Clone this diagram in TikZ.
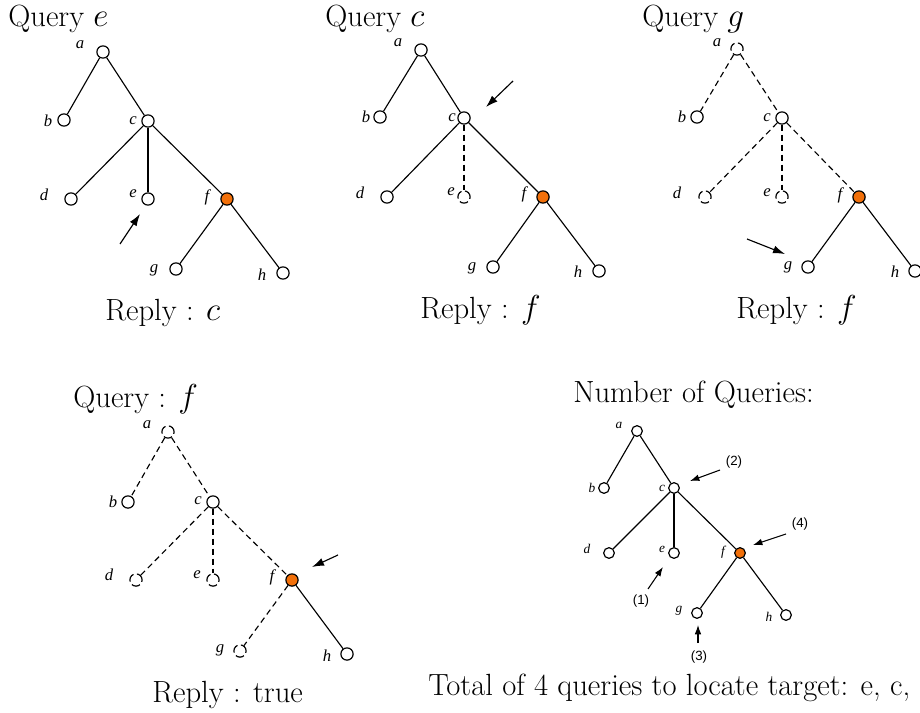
\documentclass[tikz,border=0pt]{standalone}
\usepackage{fontspec}
\newfontfamily\lblfont{Liberation Serif}
\newfontfamily\numfont{Liberation Sans}
\usetikzlibrary{arrows.meta}
\definecolor{tgtorange}{RGB}{242,112,10}
\begin{document}
\begin{tikzpicture}[x=0.75pt,y=-0.75pt,
 vtx/.style={circle,draw,line width=0.9pt,fill=white,inner sep=0pt,minimum size=9.2pt},
 svtx/.style={vtx,minimum size=8pt},
 tgt/.style={fill=tgtorange},
 gone/.style={dash pattern=on 6.5pt off 2.6pt},
 edge/.style={line width=0.85pt},
 dedge/.style={edge,dash pattern=on 4.5pt off 3pt},
 lbl/.style={font=\lblfont\itshape\fontsize{12.5}{13}\selectfont, inner sep=0pt},
 slbl/.style={font=\lblfont\itshape\fontsize{10}{11}\selectfont, inner sep=0pt},
 num/.style={font=\numfont\fontsize{10}{11}\selectfont, inner sep=0pt},
 ptr/.style={-{Latex[length=9pt,width=6pt]},line width=0.85pt},
 sptr/.style={-{Latex[length=7pt,width=5pt]},line width=0.8pt},
 title/.style={font=\fontsize{23}{26}\selectfont, inner sep=0pt, anchor=base west}
]
\useasboundingbox (0,0) rectangle (920,713);

% ---------- Tree 1 : Query e ----------
\node[title] (t1q) at (8,27) {Query $e$};
\node[vtx] (1a) at (103,52) {};
\node[vtx] (1b) at (64,120) {};
\node[vtx] (1c) at (148,121) {};
\node[vtx] (1d) at (71,199) {};
\node[vtx] (1e) at (148,199) {};
\node[vtx,tgt] (1f) at (227,199) {};
\node[vtx] (1g) at (176,269) {};
\node[vtx] (1h) at (283,273) {};
\draw[edge] (1a) -- (1b); \draw[edge] (1a) -- (1c);
\draw[edge] (1c) -- (1d); \draw[edge] (1c) -- (1e); \draw[edge] (1c) -- (1f);
\draw[edge] (1f) -- (1g); \draw[edge] (1f) -- (1h);
\node[lbl] (1la) at (80,45) {a};
\node[lbl] (1lb) at (48,121) {b};
\node[lbl] (1lc) at (133,121) {c};
\node[lbl] (1ld) at (44,195) {d};
\node[lbl] (1le) at (133,194) {e};
\node[lbl] (1lf) at (207,197) {f};
\node[lbl] (1lg) at (154,270) {g};
\node[lbl] (1lh) at (262,275) {h};
\coordinate (1p) at (120,244);
\draw[ptr] (1p) -- (140,214);
\node[title] (t1r) at (105,320) {Reply : $c$};

% ---------- Tree 2 : Query c ----------
\node[title] (t2q) at (325,27) {Query $c$};
\node[vtx] (2a) at (421,50) {};
\node[vtx] (2b) at (380,117) {};
\node[vtx] (2c) at (464,118) {};
\node[vtx] (2d) at (387,197) {};
\node[vtx,gone] (2e) at (464,197) {};
\node[vtx,tgt] (2f) at (543,197) {};
\node[vtx] (2g) at (493,267) {};
\node[vtx] (2h) at (599,271) {};
\draw[edge] (2a) -- (2b); \draw[edge] (2a) -- (2c);
\draw[edge] (2c) -- (2d); \draw[dedge] (2c) -- (2e); \draw[edge] (2c) -- (2f);
\draw[edge] (2f) -- (2g); \draw[edge] (2f) -- (2h);
\node[lbl] (2la) at (398,43) {a};
\node[lbl] (2lb) at (366,117) {b};
\node[lbl] (2lc) at (452,118) {c};
\node[lbl] (2ld) at (360,193) {d};
\node[lbl] (2le) at (451,192) {e};
\node[lbl] (2lf) at (524,194) {f};
\node[lbl] (2lg) at (472,268) {g};
\node[lbl] (2lh) at (578,272) {h};
\coordinate (2p) at (513,81);
\draw[ptr] (2p) -- (486,107);
\node[title] (t2r) at (420,318) {Reply : $f$};

% ---------- Tree 3 : Query g ----------
\node[title] (t3q) at (642,27) {Query $g$};
\node[vtx,gone] (3a) at (737,49) {};
\node[vtx] (3b) at (697,117) {};
\node[vtx] (3c) at (782,118) {};
\node[vtx,gone] (3d) at (705,197) {};
\node[vtx,gone] (3e) at (782,197) {};
\node[vtx,tgt] (3f) at (859,197) {};
\node[vtx] (3g) at (808,267) {};
\node[vtx] (3h) at (915,271) {};
\draw[dedge] (3a) -- (3b); \draw[dedge] (3a) -- (3c);
\draw[dedge] (3c) -- (3d); \draw[dedge] (3c) -- (3e); \draw[dedge] (3c) -- (3f);
\draw[edge] (3f) -- (3g); \draw[edge] (3f) -- (3h);
\node[lbl] (3la) at (717,43) {a};
\node[lbl] (3lb) at (682,117) {b};
\node[lbl] (3lc) at (767,118) {c};
\node[lbl] (3ld) at (677,193) {d};
\node[lbl] (3le) at (767,193) {e};
\node[lbl] (3lf) at (840,195) {f};
\node[lbl] (3lg) at (788,267) {g};
\node[lbl] (3lh) at (895,272) {h};
\coordinate (3p) at (747,239);
\draw[ptr] (3p) -- (785,254);
\node[title] (t3r) at (736,318) {Reply : $f$};

% ---------- Tree 4 : Query f ----------
\node[title] (t4q) at (73,407) {Query : $f$};
\node[vtx,gone] (4a) at (168,432) {};
\node[vtx] (4b) at (128,502) {};
\node[vtx] (4c) at (213,502) {};
\node[vtx,gone] (4d) at (136,580) {};
\node[vtx,gone] (4e) at (213,580) {};
\node[vtx,tgt] (4f) at (292,580) {};
\node[vtx,gone] (4g) at (240,651) {};
\node[vtx] (4h) at (347,654) {};
\draw[dedge] (4a) -- (4b); \draw[dedge] (4a) -- (4c);
\draw[dedge] (4c) -- (4d); \draw[dedge] (4c) -- (4e); \draw[dedge] (4c) -- (4f);
\draw[dedge] (4f) -- (4g); \draw[edge] (4f) -- (4h);
\node[lbl] (4la) at (147,425) {a};
\node[lbl] (4lb) at (113,502) {b};
\node[lbl] (4lc) at (198,501) {c};
\node[lbl] (4ld) at (109,575) {d};
\node[lbl] (4le) at (197,575) {e};
\node[lbl] (4lf) at (272,577) {f};
\node[lbl] (4lg) at (220,650) {g};
\node[lbl] (4lh) at (327,656) {h};
\coordinate (4p) at (338,555);
\draw[ptr] (4p) -- (312,567);
\node[title] (t4r) at (152,702) {Reply : true};

% ---------- Tree 5 : summary ----------
\node[title] (t5q) at (573,402) {Number of Queries:};
\node[svtx] (5a) at (637,431) {};
\node[svtx] (5b) at (604,488) {};
\node[svtx] (5c) at (674,488) {};
\node[svtx] (5d) at (609,553) {};
\node[svtx] (5e) at (674,553) {};
\node[svtx,tgt] (5f) at (740,553) {};
\node[svtx] (5g) at (697,613) {};
\node[svtx] (5h) at (786,615) {};
\draw[edge] (5a) -- (5b); \draw[edge] (5a) -- (5c);
\draw[edge] (5c) -- (5d); \draw[edge] (5c) -- (5e); \draw[edge] (5c) -- (5f);
\draw[edge] (5f) -- (5g); \draw[edge] (5f) -- (5h);
\node[slbl] (5la) at (619,425) {a};
\node[slbl] (5lb) at (592,488) {b};
\node[slbl] (5lc) at (662,488) {c};
\node[slbl] (5ld) at (587,549) {d};
\node[slbl] (5le) at (662,549) {e};
\node[slbl] (5lf) at (723,552) {f};
\node[slbl] (5lg) at (679,611) {g};
\node[slbl] (5lh) at (769,617) {h};
\node[num] (n2) at (734,462) {(2)};
\node[num] (n4) at (800,524) {(4)};
\node[num] (n1) at (641,601) {(1)};
\node[num] (n3) at (699,657) {(3)};
\coordinate (5p2) at (720,470); \draw[sptr] (5p2) -- (690,481);
\coordinate (5p4) at (786,534); \draw[sptr] (5p4) -- (753,545);
\coordinate (5p1) at (648,589); \draw[sptr] (5p1) -- (663,567);
\coordinate (5p3) at (698,643); \draw[sptr] (5p3) -- (698,625);

\node[title] (tot) at (428,695) {Total of 4 queries to locate target: e, c,};
\end{tikzpicture}
\end{document}
